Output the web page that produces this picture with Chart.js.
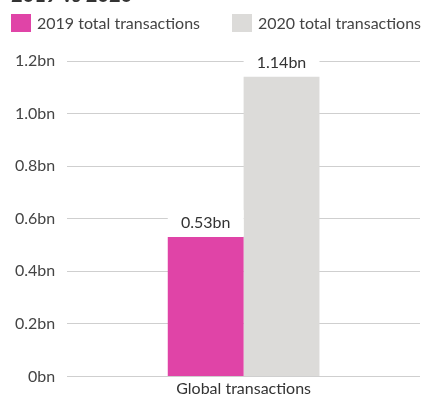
<!DOCTYPE html>
<html>
<head>
<meta charset="utf-8">
<script src="https://cdn.jsdelivr.net/npm/chart.js@4"></script>
<style>
  html, body { margin: 0; padding: 0; background: #fff; overflow: hidden; font-family: Lato, sans-serif; }
  body { width: 422px; height: 398px; position: relative; }
  #title { position: absolute; left: 11px; top: -16px; margin: 0; font-size: 20px; font-weight: bold; color: #333; line-height: 20px; white-space: nowrap; }
  #legend { position: absolute; left: 11px; top: 14px; width: 420px; display: flex; font-size: 16px; color: #444; line-height: 18px; white-space: nowrap; }
  #legend .item { display: flex; align-items: center; margin-right: 32px; }
  #legend .box { width: 20px; height: 18px; margin-right: 6px; flex: none; }
  #wrap { position: absolute; left: 0; top: 0; width: 422px; height: 398px; }
</style>
</head>
<body>
<div id="wrap"><canvas id="chart"></canvas></div>
<h2 id="title">2019 vs 2020</h2>
<div id="legend"></div>
<script>
// Дані графіка
const categories = ["Global transactions"];
const seriesNames = ["2019 total transactions", "2020 total transactions"];
const seriesColors = ["#e044a7", "#dcdbd9"];
const values2019 = [0.53];
const values2020 = [1.14];
const tickValues = [0, 0.2, 0.4, 0.6, 0.8, 1.0, 1.2];

const textColor = "#444";

Chart.defaults.font.family = "Lato, 'Open Sans', sans-serif";
Chart.defaults.color = textColor;

// Легенда в HTML
const legendEl = document.getElementById("legend");
seriesNames.forEach((name, i) => {
    const item = document.createElement("div");
    item.className = "item";
    const box = document.createElement("span");
    box.className = "box";
    box.style.background = seriesColors[i];
    item.appendChild(box);
    item.appendChild(document.createTextNode(name));
    legendEl.appendChild(item);
});

// Підписи значень над стовпцями (з білою підкладкою, що ховає сітку)
const valueLabels = {
    id: "valueLabels",
    afterDatasetsDraw(chart) {
        const ctx = chart.ctx;
        ctx.save();
        ctx.font = "16px Lato, sans-serif";
        ctx.textAlign = "center";
        ctx.textBaseline = "middle";
        chart.data.datasets.forEach((ds, i) => {
            chart.getDatasetMeta(i).data.forEach((bar, j) => {
                const w = bar.width;
                ctx.fillStyle = "#fff";
                ctx.fillRect(bar.x - w / 2, bar.y - 27, w, 26);
                ctx.fillStyle = "#333";
                ctx.fillText(ds.data[j].toFixed(2) + "bn", bar.x, bar.y - 14);
            });
        });
        ctx.restore();
    }
};

new Chart(document.getElementById("chart"), {
    type: "bar",
    data: {
        labels: categories,
        datasets: [
            { label: seriesNames[0], data: values2019, backgroundColor: seriesColors[0] },
            { label: seriesNames[1], data: values2020, backgroundColor: seriesColors[1] }
        ]
    },
    options: {
        responsive: true,
        maintainAspectRatio: false,
        animation: false,
        datasets: { bar: { categoryPercentage: 0.43, barPercentage: 1.0 } },
        layout: { padding: { top: 61, left: 3, right: 2, bottom: 0 } },
        plugins: {
            legend: { display: false },
            tooltip: { enabled: false }
        },
        scales: {
            x: {
                grid: { display: false, drawTicks: false },
                border: { display: false },
                ticks: { color: "#333", font: { size: 16 }, padding: 3, maxRotation: 0 },
                afterFit: (axis) => { axis.height = 20; }
            },
            y: {
                min: 0,
                max: 1.2,
                afterBuildTicks: (axis) => { axis.ticks = tickValues.map(v => ({ value: v })); },
                ticks: {
                    color: textColor,
                    font: { size: 16 },
                    padding: 12,
                    callback: (v) => (v === 0 ? "0" : v.toFixed(1)) + "bn"
                },
                grid: { color: "#cfcfcf", drawTicks: false },
                border: { display: false }
            }
        }
    },
    plugins: [valueLabels]
});
</script>
</body>
</html>
